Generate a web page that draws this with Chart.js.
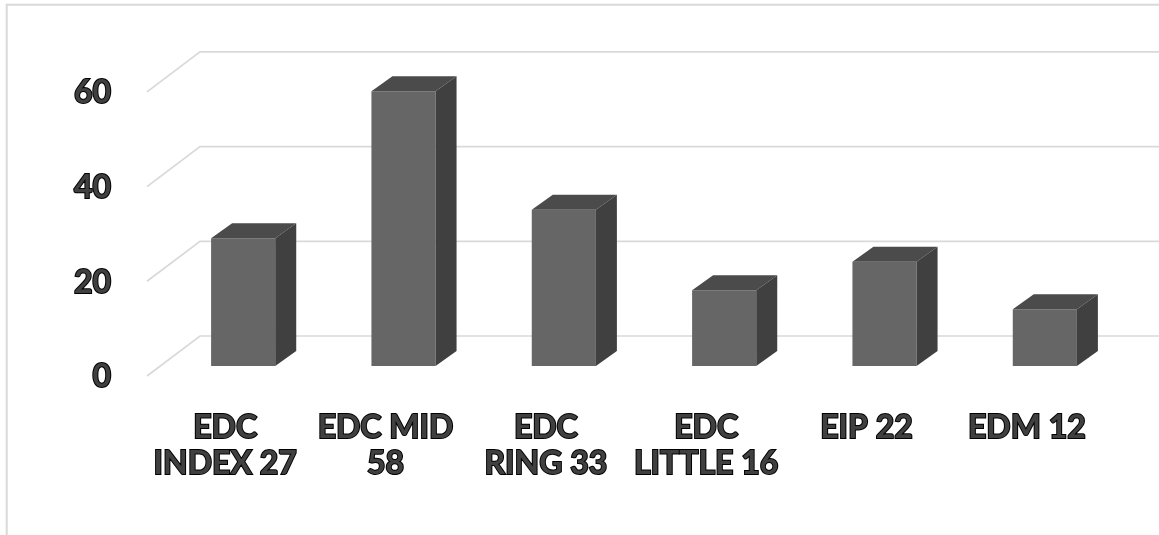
<!DOCTYPE html>
<html>
<head>
<meta charset="utf-8">
<title>EDC / EIP / EDM</title>
<script src="https://cdn.jsdelivr.net/npm/chart.js@4/dist/chart.umd.min.js"></script>
<style>
  html, body { margin: 0; padding: 0; background: #ffffff; }
  #wrap { width: 1159px; height: 535px; }
</style>
</head>
<body>
<div id="wrap"><canvas id="chart" width="1159" height="535"></canvas></div>
<script>
// Category labels (multi-line where the axis wraps them)
const categories = [
  ['EDC', 'INDEX 27'],
  ['EDC MID', '58'],
  ['EDC', 'RING 33'],
  ['EDC', 'LITTLE 16'],
  'EIP 22',
  'EDM 12'
];
// Bar values
const values = [27, 58, 33, 16, 22, 12];
// Value axis ticks
const tickValues = [0, 20, 40, 60];

// Colours of the box faces
const FRONT_COLOR = '#666666';
const TOP_COLOR = '#4b4b4b';
const SIDE_COLOR = '#404040';
const GRID_COLOR = '#d9d9d9';

// Depth offsets (pixels) used for the pseudo-3D look
const BAR_DEPTH = { dx: 21, dy: -15 };
const FLOOR_FRONT = { dx: -16, dy: 10 };
const FLOOR_BACK = { dx: 37, dy: -30 };

// Outer frame of the chart
const framePlugin = {
  id: 'frame',
  beforeDraw(chart) {
    const ctx = chart.ctx;
    ctx.save();
    ctx.fillStyle = '#ffffff';
    ctx.fillRect(0, 0, chart.width, chart.height);
    ctx.strokeStyle = GRID_COLOR;
    ctx.lineWidth = 2;
    ctx.strokeRect(6.7, 4.7, chart.width + 10, chart.height + 10);
    ctx.restore();
  }
};

// Gridlines bent across the side wall onto the back wall
const wallGridPlugin = {
  id: 'wallGrid',
  beforeDatasetsDraw(chart) {
    const { ctx, chartArea, scales } = chart;
    const y = scales.y;
    ctx.save();
    ctx.strokeStyle = GRID_COLOR;
    ctx.lineWidth = 1.7;
    tickValues.forEach(v => {
      const py = y.getPixelForValue(v);
      ctx.beginPath();
      ctx.moveTo(chartArea.left + FLOOR_FRONT.dx, py + FLOOR_FRONT.dy);
      ctx.lineTo(chartArea.left + FLOOR_BACK.dx, py + FLOOR_BACK.dy);
      ctx.lineTo(chart.width, py + FLOOR_BACK.dy);
      ctx.stroke();
    });
    ctx.restore();
  }
};

// Top and side faces of each bar, built from the bar element geometry
const boxFacesPlugin = {
  id: 'boxFaces',
  afterDatasetsDraw(chart) {
    const ctx = chart.ctx;
    const meta = chart.getDatasetMeta(0);
    ctx.save();
    meta.data.forEach(bar => {
      const { x, y, base, width } = bar.getProps(['x', 'y', 'base', 'width'], true);
      const l = x - width / 2;
      const r = x + width / 2;
      const dx = BAR_DEPTH.dx, dy = BAR_DEPTH.dy;
      // top face
      ctx.fillStyle = TOP_COLOR;
      ctx.beginPath();
      ctx.moveTo(l, y);
      ctx.lineTo(l + dx, y + dy);
      ctx.lineTo(r + dx, y + dy);
      ctx.lineTo(r, y);
      ctx.closePath();
      ctx.fill();
      // side face
      ctx.fillStyle = SIDE_COLOR;
      ctx.beginPath();
      ctx.moveTo(r, y);
      ctx.lineTo(r + dx, y + dy);
      ctx.lineTo(r + dx, base + dy);
      ctx.lineTo(r, base);
      ctx.closePath();
      ctx.fill();
    });
    ctx.restore();
  }
};

const labelFont = { family: 'Lato, "Open Sans", sans-serif', size: 32, weight: 'bold', lineHeight: 1.125 };

new Chart(document.getElementById('chart'), {
  type: 'bar',
  data: {
    labels: categories,
    datasets: [{
      data: values,
      backgroundColor: FRONT_COLOR,
      borderWidth: 0,
      barPercentage: 0.4,
      categoryPercentage: 1.0
    }]
  },
  options: {
    responsive: false,
    devicePixelRatio: 1,
    animation: false,
    layout: { padding: { top: 33, right: 34, bottom: 0, left: 0 } },
    plugins: {
      legend: { display: false },
      tooltip: { enabled: false },
      title: { display: false }
    },
    scales: {
      x: {
        grid: { display: false, drawTicks: false },
        border: { display: false },
        ticks: {
          font: labelFont,
          color: '#404040',
          textStrokeColor: '#000000',
          textStrokeWidth: 2,
          padding: 44,
          labelOffset: -18,
          maxRotation: 0,
          minRotation: 0,
          autoSkip: false
        },
        afterFit(scale) { scale.height = 169; }
      },
      y: {
        min: 0,
        max: 62.5,
        grid: { display: false, drawTicks: false },
        border: { display: false },
        afterBuildTicks(scale) { scale.ticks = tickValues.map(v => ({ value: v })); },
        ticks: {
          font: labelFont,
          color: '#404040',
          textStrokeColor: '#000000',
          textStrokeWidth: 2,
          padding: 52,
          labelOffset: 11
        },
        afterFit(scale) { scale.width = 163; }
      }
    }
  },
  plugins: [framePlugin, wallGridPlugin, boxFacesPlugin]
});
</script>
</body>
</html>
